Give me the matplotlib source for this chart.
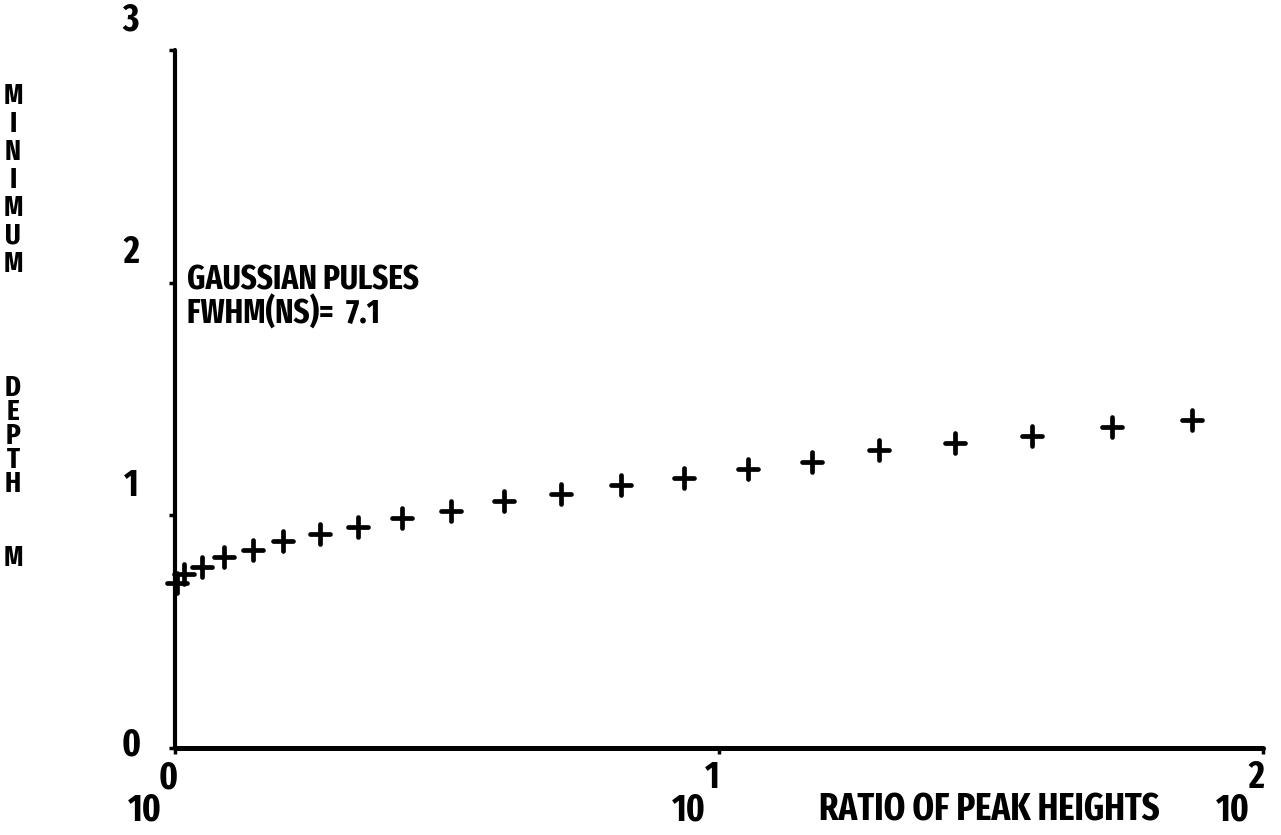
import os
import matplotlib
matplotlib.use("Agg")
import matplotlib.pyplot as plt
from matplotlib import font_manager
from matplotlib.font_manager import FontProperties
from matplotlib.markers import MarkerStyle
from matplotlib.ticker import NullLocator

# --- data -------------------------------------------------------------
ratio = [1.01, 1.04, 1.12, 1.23, 1.39, 1.58, 1.85, 2.17, 2.61, 3.22, 4.03,
         5.12, 6.61, 8.63, 11.3, 14.8, 19.7, 27.2, 37.6, 52.8, 74.1]
min_depth = [0.71, 0.75, 0.78, 0.82, 0.85, 0.89, 0.92, 0.95, 0.99, 1.02, 1.06,
             1.09, 1.13, 1.16, 1.20, 1.23, 1.28, 1.31, 1.34, 1.38, 1.41]

y_ticks = [0, 1, 2, 3]
x_ticks = [1, 10, 100]
x_exponents = ["0", "1", "2"]
x_title = "RATIO OF PEAK HEIGHTS"
y_title = "MINIMUM DEPTH M"
note = "GAUSSIAN PULSES\nFWHM(NS)=  7.1"


# --- font: pick the narrowest bold face that is installed ---------------
def pick_font():
    ranks = [("extracondensed", 0), ("extra condensed", 0), ("narrow", 1),
             ("semicondensed", 3), ("semi condensed", 3), ("condensed", 2)]
    best = None
    for f in font_manager.fontManager.ttflist:
        key = (f.name + " " + os.path.basename(f.fname)).lower()
        if "bold" not in key or "italic" in key or "oblique" in key:
            continue
        if "extrabold" in key or "semibold" in key or "black" in key:
            continue
        if "mono" in key or "cjk" in key:
            continue
        for tag, r in ranks:
            if tag in key:
                if best is None or r < best[0]:
                    best = (r, f.fname)
                break
    if best:
        return FontProperties(fname=best[1])
    return FontProperties(family="DejaVu Sans", weight="bold")


base_fp = pick_font()


def fp(size):
    p = base_fp.copy()
    p.set_size(size)
    return p


W, H = 1281, 835
fig = plt.figure(figsize=(W / 100, H / 100), dpi=100)
fig.patch.set_facecolor("white")
renderer = fig.canvas.get_renderer()

# size the lettering so the axis title spans about 345 px
probe = fig.text(0, 0, x_title, fontproperties=fp(24))
w = probe.get_window_extent(renderer).width
probe.remove()
size = min(27.0, 24.0 * 345.0 / w)
note_size = size * 0.9
ytitle_size = size * 0.78

x0, x1, y0, y1 = 175, 1263, 748, 50
ax = fig.add_axes([x0 / W, (H - y0) / H, (x1 - x0) / W, (y0 - y1) / H])
ax.set_xscale("log")
ax.set_xlim(1, 100)
ax.set_ylim(0, 3)
ax.set_facecolor("white")

for side in ("top", "right"):
    ax.spines[side].set_visible(False)
ax.spines["left"].set_linewidth(3.0)
ax.spines["bottom"].set_linewidth(3.6)
for sp in ("left", "bottom"):
    ax.spines[sp].set_capstyle("round")

ax.set_yticks(y_ticks)
ax.set_xticks(x_ticks)
ax.xaxis.set_minor_locator(NullLocator())
ax.yaxis.set_minor_locator(NullLocator())
ax.tick_params(axis="both", direction="out", length=4, width=2.5,
               labelbottom=False, labelleft=False, color="black")

# points
plus = MarkerStyle("+", capstyle="round")
ax.plot(ratio, min_depth, linestyle="none", marker=plus, markersize=15,
        markeredgewidth=3.4, color="black", clip_on=False)

# y tick labels, drawn left of and slightly above each tick
for v in y_ticks:
    dy = 3 if v == 0 else 30
    ax.annotate(str(v), xy=(0, v), xycoords=("axes fraction", "data"),
                xytext=(-44, dy), textcoords="offset pixels",
                ha="center", va="center", fontproperties=fp(size))

# x tick labels as 10 with a raised exponent
for v, e in zip(x_ticks, x_exponents):
    ax.annotate("10", xy=(v, 0), xycoords=("data", "axes fraction"),
                xytext=(-30, -62), textcoords="offset pixels",
                ha="center", va="center", fontproperties=fp(size))
    ax.annotate(e, xy=(v, 0), xycoords=("data", "axes fraction"),
                xytext=(-7, -30), textcoords="offset pixels",
                ha="center", va="center", fontproperties=fp(size))

# x axis title
ax.annotate(x_title, xy=(0.748, 0), xycoords="axes fraction",
            xytext=(0, -62), textcoords="offset pixels",
            ha="center", va="center", fontproperties=fp(size))

# y axis title, one letter per row (word start row, letter pitch in px)
word_layout = [(93, 28), (385, 24), (555, 0)]
for word, (start, pitch) in zip(y_title.split(" "), word_layout):
    for i, ch in enumerate(word):
        yp = start + i * pitch
        fig.text(13 / W, 1 - yp / H, ch, ha="center", va="center_baseline",
                 fontproperties=fp(ytitle_size))

# annotation inside the plot
ax.annotate(note, xy=(0, 0), xycoords="axes fraction",
            xytext=(187 - x0, y0 - 297), textcoords="offset pixels",
            ha="left", va="center", fontproperties=fp(note_size),
            linespacing=0.95)

fig.savefig("out.png", dpi=100, facecolor="white")
